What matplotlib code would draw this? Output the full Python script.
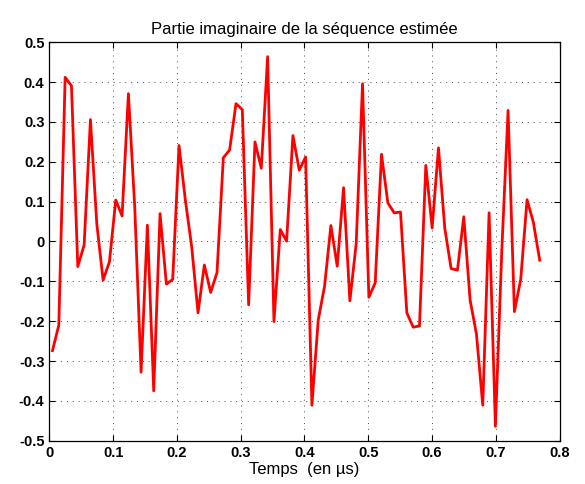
import numpy as np
import matplotlib
matplotlib.use('Agg')
import matplotlib.pyplot as plt

plt.rcParams['font.family'] = ['Liberation Sans', 'DejaVu Sans']

# imaginary part of estimated sequence, one value per sample
imag_part = [-0.274, -0.21, 0.412, 0.391, -0.063, -0.009, 0.306, 0.045, -0.097, -0.051,
             0.104, 0.064, 0.371, 0.087, -0.328, 0.041, -0.375, 0.07, -0.107, -0.095,
             0.241, 0.104, -0.013, -0.179, -0.059, -0.128, -0.078, 0.21, 0.23, 0.346,
             0.331, -0.159, 0.25, 0.184, 0.464, -0.201, 0.03, 0.001, 0.266, 0.179,
             0.212, -0.411, -0.197, -0.112, 0.04, -0.062, 0.135, -0.149, -0.005, 0.396,
             -0.14, -0.104, 0.219, 0.097, 0.072, 0.074, -0.179, -0.215, -0.212, 0.191,
             0.034, 0.235, 0.033, -0.068, -0.072, 0.062, -0.147, -0.232, -0.411, 0.072,
             -0.464, -0.026, 0.329, -0.176, -0.095, 0.105, 0.048, -0.047]

Ts = 0.00992  # sample period in us
t = Ts * (np.arange(len(imag_part)) + 0.5)

xticks = [0, 0.1, 0.2, 0.3, 0.4, 0.5, 0.6, 0.7, 0.8]
xtick_labels = ['0', '0.1', '0.2', '0.3', '0.4', '0.5', '0.6', '0.7', '0.8']
yticks = [-0.5, -0.4, -0.3, -0.2, -0.1, 0, 0.1, 0.2, 0.3, 0.4, 0.5]
ytick_labels = ['-0.5', '-0.4', '-0.3', '-0.2', '-0.1', '0', '0.1', '0.2', '0.3', '0.4', '0.5']

fig = plt.figure(figsize=(5.85, 4.84), dpi=100)
ax = fig.add_axes([0.0843, 0.0895, 0.8723, 0.8231])

ax.plot(t, imag_part, color='red', lw=2)

ax.set_xlim(0, 0.8)
ax.set_ylim(-0.5, 0.5)
ax.set_xticks(xticks)
ax.set_xticklabels(xtick_labels, fontweight='bold', fontsize=10.5)
ax.set_yticks(yticks)
ax.set_yticklabels(ytick_labels, fontweight='bold', fontsize=10.5)
ax.tick_params(direction='in', top=True, right=True, length=4, width=0.8)
ax.grid(True, linestyle=(0, (1, 5)), color='0.3', lw=0.7)
for s in ax.spines.values():
    s.set_linewidth(0.9)

ax.set_title('Partie imaginaire de la séquence estimée', fontsize=12, pad=6)
ax.set_xlabel('Temps  (en µs)', fontsize=12, labelpad=1.5)

fig.savefig('out.png', dpi=100)
